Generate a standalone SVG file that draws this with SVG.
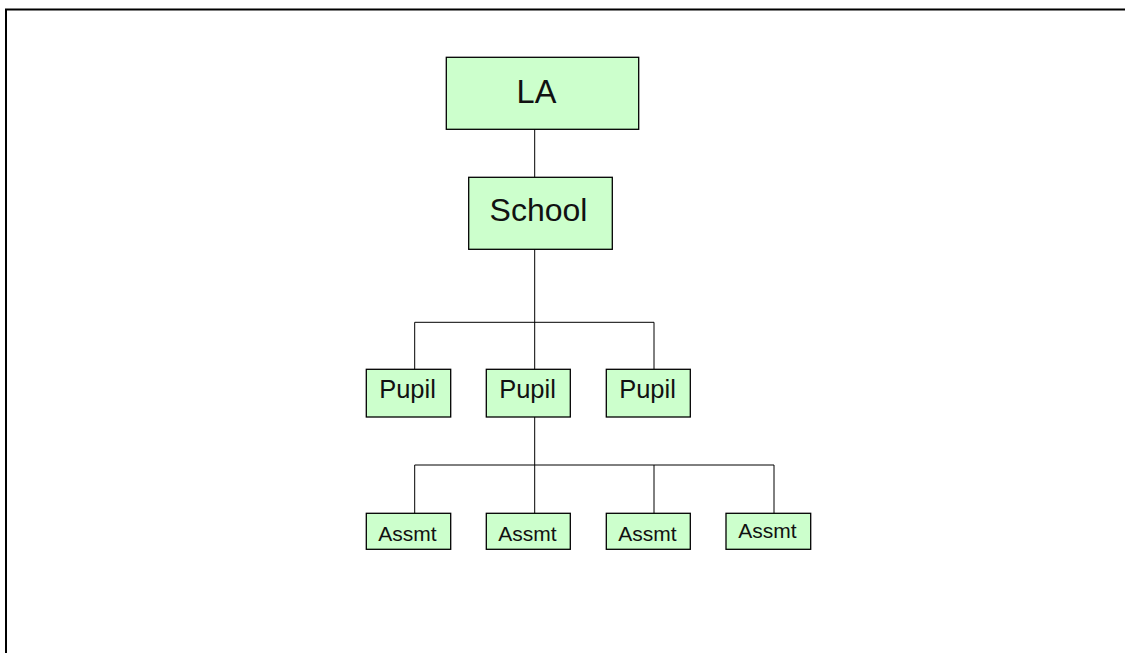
<svg xmlns="http://www.w3.org/2000/svg" width="1125" height="653" viewBox="0 0 1125 653">
<style>
.box{fill:#ccffcc;stroke:#000;stroke-width:1.3}
.t{font-family:"Liberation Sans",Arial,sans-serif;fill:#111;text-anchor:middle}
.c{fill:none;stroke:#000;stroke-width:1}
</style>
<rect x="0" y="0" width="1125" height="653" fill="#fff"/>
<rect x="6" y="9.5" width="1130" height="660" fill="none" stroke="#000" stroke-width="2"/>
<g id="connectors">
<path class="c" d="M534.7 129.3V177.3M534.7 249.3V369.3M414.7 369.3V322.3H654V369.3M534.7 417V513.3M414.7 513.3V465H774V513.3M654 465V513.3"/>
</g>
<g id="la"><rect class="box" x="446.3" y="57.3" width="192.4" height="72"/><text class="t" x="536.5" y="103.3" font-size="32.5">LA</text></g>
<g id="school"><rect class="box" x="468.7" y="177.3" width="143.6" height="72"/><text class="t" x="538.5" y="220.5" font-size="32">School</text></g>
<g id="pupil1"><rect class="box" x="366.3" y="369.3" width="84.4" height="47.7"/><text class="t" x="407.5" y="398" font-size="25.5">Pupil</text></g>
<g id="pupil2"><rect class="box" x="486.3" y="369.3" width="84" height="47.7"/><text class="t" x="527.5" y="398" font-size="25.5">Pupil</text></g>
<g id="pupil3"><rect class="box" x="606.3" y="369.3" width="84" height="47.7"/><text class="t" x="647.5" y="398" font-size="25.5">Pupil</text></g>
<g id="assmt1"><rect class="box" x="366.3" y="513.3" width="84.4" height="36"/><text class="t" x="407.5" y="541" font-size="21">Assmt</text></g>
<g id="assmt2"><rect class="box" x="486.3" y="513.3" width="84" height="36"/><text class="t" x="527.5" y="541" font-size="21">Assmt</text></g>
<g id="assmt3"><rect class="box" x="606.3" y="513.3" width="84" height="36"/><text class="t" x="647.5" y="541" font-size="21">Assmt</text></g>
<g id="assmt4"><rect class="box" x="726" y="513.3" width="84.7" height="36"/><text class="t" x="767.5" y="538" font-size="21">Assmt</text></g>
</svg>
